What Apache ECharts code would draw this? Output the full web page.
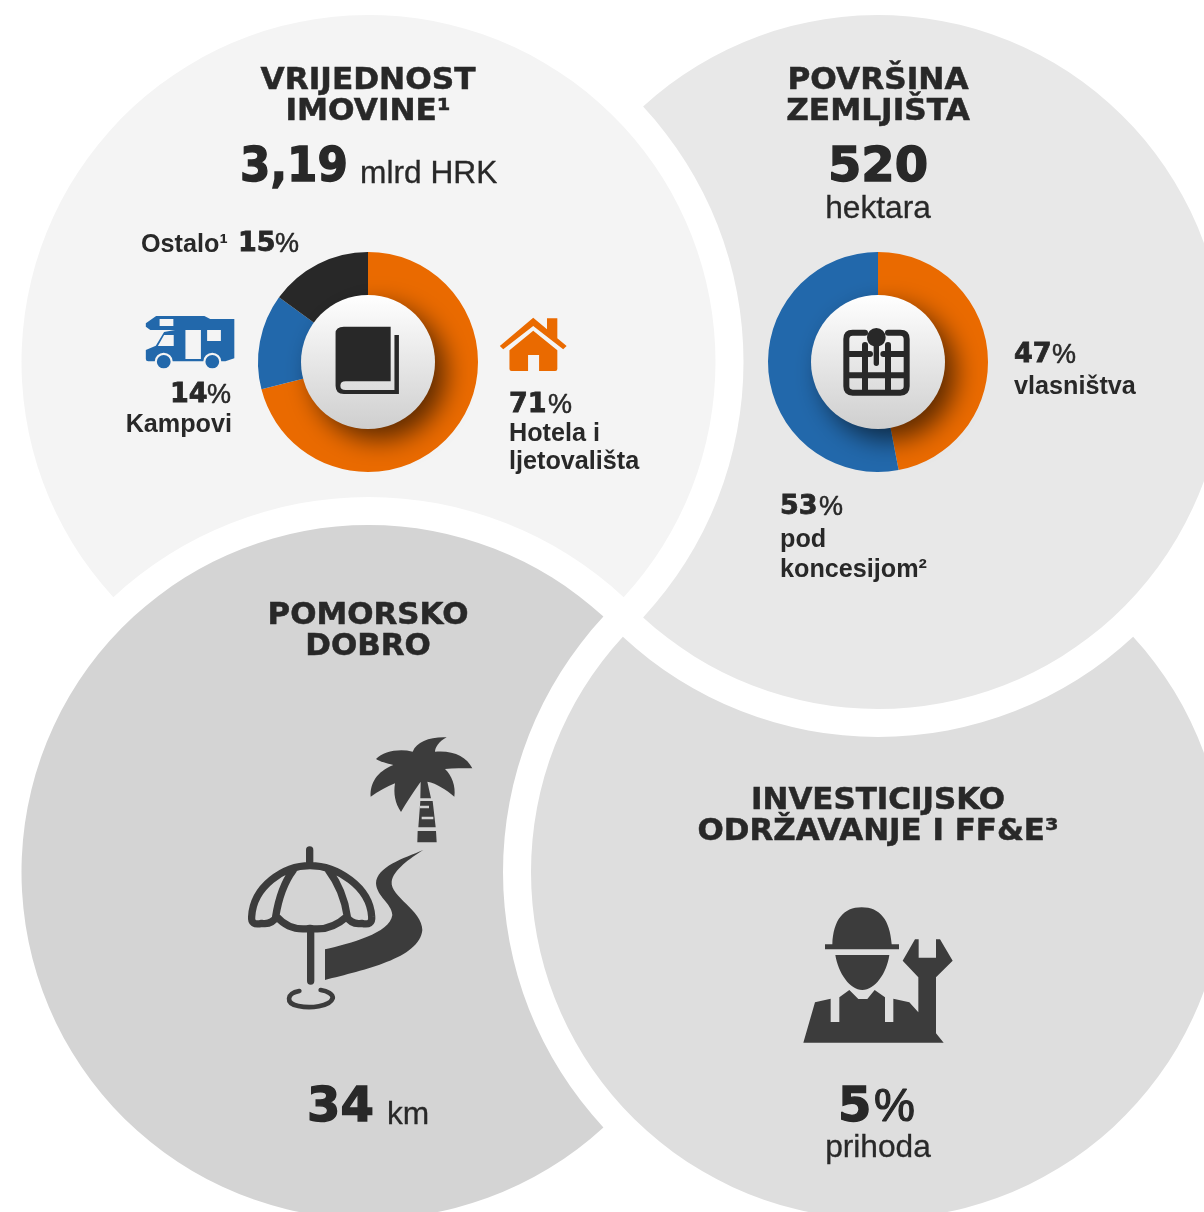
<!DOCTYPE html>
<html>
<head>
<meta charset="UTF-8">
<title>Imovina</title>
<script src="https://cdn.jsdelivr.net/npm/echarts@6/dist/echarts.min.js"></script>
<style>
html, body { margin: 0; background: #fff; }
#main { width: 1204px; height: 1212px; }
</style>
</head>
<body>
<div id="main"></div>
<script>
// chart values
const assetCategories = ['Hotela i ljetovališta', 'Kampovi', 'Ostalo¹'];
const assetValues = [71, 14, 15];
const assetColors = ['#ea6a00', '#2268ab', '#282828'];
const landCategories = ['vlasništva', 'pod koncesijom²'];
const landValues = [47, 53];
const landColors = ['#ea6a00', '#2268ab'];

const assetTotal = '3,19';
const landTotal = '520';
const coastLength = '34';
const capexShare = '5';

// panels: the four big circles, each one cut by the ring of the next
const R = 347, CUT = 375;
const panels = [
    { c: [368.5, 362], over: [368.5, 872], fill: '#f4f4f4' },
    { c: [878, 362], over: [368.5, 362], fill: '#e8e8e8' },
    { c: [368.5, 872], over: [878, 872], fill: '#d4d4d4' },
    { c: [878, 872], over: [878, 362], fill: '#dedede' }
];

function panelPath(p) {
    var dx = p.over[0] - p.c[0], dy = p.over[1] - p.c[1];
    var d = Math.sqrt(dx * dx + dy * dy);
    var a = (d * d + R * R - CUT * CUT) / (2 * d);
    var h = Math.sqrt(R * R - a * a);
    var ux = dx / d, uy = dy / d;
    var x1 = p.c[0] + a * ux - h * uy, y1 = p.c[1] + a * uy + h * ux;
    var x2 = p.c[0] + a * ux + h * uy, y2 = p.c[1] + a * uy - h * ux;
    return `M${x1} ${y1} A${R} ${R} 0 1 1 ${x2} ${y2} A${CUT} ${CUT} 0 0 0 ${x1} ${y1} Z`;
}

// icons, drawn in the pixel space of the crops they were traced from
const ink = '#3c3c3c', dark = '#282828';
const SX1 = 1 / 2.904, SY1 = 1 / 3, S3 = 1 / 3;
const icons = [
    // book
    { x: 120, y: 220, sx: SX1, sy: SY1, fill: dark, d: 'M650 320 H786 V484 H655 Q640 484 640 497 Q640 510 655 510 H797 V345 H810 V522 H650 Q626 522 626 497 V340 Q626 320 650 320 Z' },
    // camper
    { x: 120, y: 220, sx: SX1, sy: SY1, fill: '#2268ab', d: 'M75 310 L105 288 H245 L262 297 H332 V415 L306 424 H294 A26 26 0 0 0 242 424 H153 A26 26 0 0 0 101 424 H82 Q75 424 75 417 V390 L104 377 L128 336 L160 330 H88 L75 320 Z M115 297 V318 H155 V297 Z M190 330 V417 H235 V330 Z M253 330 V363 H293 V330 Z M110 378 H156 V345 H128 Z M107 425 A20 20 0 1 0 147 425 A20 20 0 1 0 107 425 Z M248 425 A20 20 0 1 0 288 425 A20 20 0 1 0 248 425 Z' },
    // house
    { x: 120, y: 220, sx: SX1, sy: SY1, fill: '#ea6a00', d: 'M1200 293 L1240 328 V295 H1270 V355 L1297 378 L1287 388 L1200 318 L1113 388 L1103 378 Z M1200 332 L1270 391 V447 Q1270 453 1264 453 H1217 V405 H1185 V453 H1137 Q1131 453 1131 447 V391 Z' },
    // worker
    { x: 790, y: 890, sx: S3, sy: S3, fill: ink, d: 'M127 163 C130 90 160 52 215 52 C270 52 300 90 305 163 H327 V178 H105 V163 Z M136 195 H298 C290 250 255 300 217 300 C180 300 145 250 136 195 Z M40 458 L75 337 L122 326 V396 H148 V322 L178 300 L205 327 H232 L254 300 L285 322 V396 H310 V326 L358 337 L385 367 V262 L338 212 L375 148 H386 V203 H438 V148 H450 L488 212 L438 262 V430 L461 458 Z' },
    // road
    { x: 230, y: 720, sx: S3, sy: S3, fill: ink, d: 'M580 390 C520 415 440 440 438 490 C440 530 485 550 487 585 C480 640 360 670 285 688 V780 C400 750 570 715 577 630 C577 570 480 530 485 485 C490 450 540 415 580 390 Z' },
    // palm crown and trunk
    { x: 230, y: 720, sx: S3, sy: S3, fill: ink, d: 'M650 52 C625 65 615 85 615 95 C670 90 710 110 727 145 C700 145 670 145 645 147 C665 165 678 200 673 230 C650 210 620 190 592 185 L572 185 C555 210 530 245 513 276 C495 250 490 220 495 190 C470 200 445 215 422 230 C420 190 440 155 490 135 C470 130 450 125 438 117 C460 95 505 85 548 95 C560 65 600 50 650 52 Z M572 185 H592 L603 235 H571 Z M571 243 H608 L617 322 H565 Z M563 333 H618 L620 367 H562 Z' },
    { x: 230, y: 720, sx: S3, sy: S3, fill: '#d4d4d4', d: 'M570 257 H597 V265 H570 Z M575 290 H610 V298 H575 Z' },
    // key in the grid
    { x: 750, y: 230, sx: S3, sy: S3, fill: dark, d: 'M351 322 A28 28 0 1 1 407 322 A28 28 0 0 1 387 349 V400 A8 8 0 0 1 371 400 V349 A28 28 0 0 1 351 322 Z' }
];
const strokes = [
    // grid
    { x: 750, y: 230, sx: S3, sy: S3, w: 18, stroke: dark, d: 'M345 308 H308 Q289 308 289 327 V469 Q289 488 308 488 H451 Q470 488 470 469 V327 Q470 308 451 308 H414 M289 372 H360 M400 372 H470 M289 436 H470 M345 345 V488 M414 345 V488' },
    // umbrella
    { x: 230, y: 720, sx: S3, sy: S3, w: 22, stroke: ink, d: 'M239 390 V430 M65 590 C70 500 160 437 240 437 C320 437 420 500 425 590 Q428 618 395 610 Q365 615 350 590 Q300 635 240 625 Q180 635 140 590 Q125 615 95 610 Q62 618 65 590 M190 450 C160 490 145 540 137 590 M295 450 C325 490 345 540 352 590 M242 630 V783' },
    { x: 230, y: 720, sx: S3, sy: S3, w: 14, stroke: ink, d: 'M208 813 C170 820 165 850 205 858 C240 866 300 860 308 835 C310 822 292 813 272 810' }
];

const headFont = 'bold 30px "DejaVu Sans"';
const bigFont = 'bold 48px "DejaVu Sans"';
const numFont = 'bold 27px "DejaVu Sans"';
const pctFont = '27px "Liberation Sans"';
const labelFont = 'bold 25.2px "Liberation Sans"';
const unitFont = '31.7px "Liberation Sans"';

// text, x, y, font, align, horizontal stretch, stroke width
const texts = [
    ['VRIJEDNOST', 368, 81.5, headFont, 'center', 1.04, 0.5],
    ['IMOVINE¹', 368, 112.5, headFont, 'center', 1.04, 0.5],
    [assetTotal, 240, 169, bigFont, 'left', 0.91, 1.4],
    ['mlrd HRK', 360, 174, unitFont, 'left', 1, 0.3],
    ['Ostalo¹', 141, 245, labelFont, 'left', 1, 0],
    [assetValues[2], 238, 244, numFont, 'left', 1, 0.8],
    ['%', 275, 245, pctFont, 'left', 1, 0.5],
    [assetValues[1], 170, 395, numFont, 'left', 1, 0.8],
    ['%', 207, 396, pctFont, 'left', 1, 0.5],
    ['Kampovi', 232, 425, labelFont, 'right', 1, 0],
    [assetValues[0], 509, 405, numFont, 'left', 1, 0.8],
    ['%', 548, 406, pctFont, 'left', 1, 0.5],
    ['Hotela i', 509, 434, labelFont, 'left', 1, 0],
    ['ljetovališta', 509, 462, labelFont, 'left', 1, 0],

    ['POVRŠINA', 878, 81.5, headFont, 'center', 1.04, 0.5],
    ['ZEMLJIŠTA', 878, 112.5, headFont, 'center', 1.04, 0.5],
    [landTotal, 878, 169, bigFont, 'center', 1, 1.4],
    ['hektara', 878, 209, unitFont, 'center', 1, 0.3],
    [landValues[0], 1014, 355, numFont, 'left', 1, 0.8],
    ['%', 1052, 356, pctFont, 'left', 1, 0.5],
    ['vlasništva', 1014, 387, labelFont, 'left', 1, 0],
    [landValues[1], 780, 507, numFont, 'left', 1, 0.8],
    ['%', 819, 508, pctFont, 'left', 1, 0.5],
    ['pod', 780, 540, labelFont, 'left', 1, 0],
    ['koncesijom²', 780, 570, labelFont, 'left', 1, 0],

    ['POMORSKO', 368, 616.5, headFont, 'center', 1.03, 0.5],
    ['DOBRO', 368, 647.5, headFont, 'center', 1.03, 0.5],
    [coastLength, 307, 1109, bigFont, 'left', 1, 1.4],
    ['km', 387, 1115, unitFont, 'left', 1, 0.3],

    ['INVESTICIJSKO', 878, 801.5, headFont, 'center', 1.03, 0.5],
    ['ODRŽAVANJE I FF&E³', 878, 832.5, headFont, 'center', 1.03, 0.5],
    [capexShare, 838, 1109, bigFont, 'left', 1, 1.4],
    ['%', 874, 1108, '46px "Liberation Sans"', 'left', 1, 1.2],
    ['prihoda', 878, 1148, unitFont, 'center', 1, 0.3]
];

function discEl(cx, cy) {
    return {
        type: 'circle',
        shape: { cx: cx, cy: cy, r: 67 },
        style: {
            fill: new echarts.graphic.LinearGradient(0, 0, 0, 1, [
                { offset: 0, color: '#ffffff' },
                { offset: 1, color: '#cfcfcf' }
            ]),
            shadowColor: 'rgba(0,0,0,0.6)',
            shadowBlur: 26,
            shadowOffsetX: 11,
            shadowOffsetY: 11
        }
    };
}

function pie(data, colors, names, cx) {
    return {
        type: 'pie',
        z: 2,
        silent: true,
        center: [cx, 362],
        radius: [60, 110],
        startAngle: 90,
        label: { show: false },
        labelLine: { show: false },
        emphasis: { disabled: true },
        data: data.map(function (v, i) {
            return { name: names[i], value: v, itemStyle: { color: colors[i] } };
        })
    };
}

var myChart = echarts.init(document.getElementById('main'));

myChart.setOption({
    animation: false,
    backgroundColor: '#ffffff',
    series: [
        {
            type: 'custom',
            coordinateSystem: 'none',
            silent: true,
            z: 1,
            data: [0],
            renderItem: function () {
                return {
                    type: 'group',
                    children: panels.map(function (p) {
                        return { type: 'path', shape: { pathData: panelPath(p) }, style: { fill: p.fill } };
                    })
                };
            }
        },
        pie(assetValues, assetColors, assetCategories, 368),
        pie(landValues, landColors, landCategories, 878),
        {
            type: 'custom',
            coordinateSystem: 'none',
            silent: true,
            z: 3,
            data: [0],
            renderItem: function () {
                var kids = [discEl(368, 362), discEl(878, 362)];
                icons.forEach(function (ic) {
                    kids.push({
                        type: 'path', x: ic.x, y: ic.y, scaleX: ic.sx, scaleY: ic.sy,
                        shape: { pathData: ic.d },
                        style: { fill: ic.fill }
                    });
                });
                strokes.forEach(function (ic) {
                    kids.push({
                        type: 'path', x: ic.x, y: ic.y, scaleX: ic.sx, scaleY: ic.sy,
                        shape: { pathData: ic.d },
                        style: { fill: 'none', stroke: ic.stroke, lineWidth: ic.w, lineCap: 'round', lineJoin: 'round' }
                    });
                });
                texts.forEach(function (t) {
                    kids.push({
                        type: 'text',
                        x: t[1], y: t[2], scaleX: t[5],
                        style: {
                            text: String(t[0]), x: 0, y: 0, font: t[3], fill: dark,
                            align: t[4], verticalAlign: 'middle',
                            stroke: t[6] ? dark : null, lineWidth: t[6]
                        }
                    });
                });
                return { type: 'group', children: kids };
            }
        }
    ]
});
</script>
</body>
</html>
